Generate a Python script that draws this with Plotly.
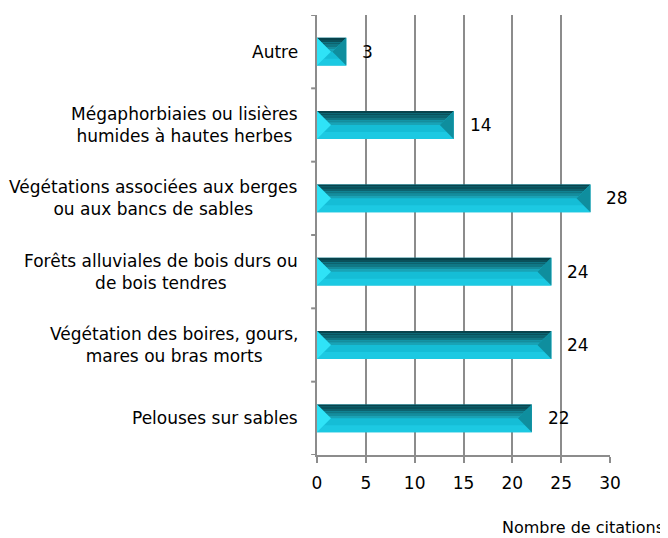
import plotly.graph_objects as go

categories = [
    "Autre",
    "Mégaphorbiaies ou lisières<br>humides à hautes herbes",
    "Végétations associées aux berges<br>ou aux bancs de sables",
    "Forêts alluviales de bois durs ou<br>de bois tendres",
    "Végétation des boires, gours,<br>mares ou bras morts",
    "Pelouses sur sables",
]
values = [3, 14, 28, 24, 24, 22]
x_ticks = [0, 5, 10, 15, 20, 25, 30]

FONT = "DejaVu Sans"
BAR_W = 0.38
GREY = "#8c8c8c"

W, H = 660, 530
ML, MR, MT, MB = 309, 58, 7, 83

fig = go.Figure()
fig.add_trace(go.Bar(
    x=values, y=list(range(len(categories))), orientation="h",
    width=BAR_W, marker=dict(color="#15bdd6", line=dict(width=0)),
    hoverinfo="skip",
))

# bevel shapes computed from data
plot_w_px = W - ML - MR
plot_h_px = H - MT - MB
px_per_x = plot_w_px / 30.0
px_per_cat = plot_h_px / len(categories)
h = BAR_W / 2
d_full = h * px_per_cat / px_per_x

shapes = []
top_cols = ["#08434c", "#0a505a", "#0d626e", "#117784", "#158d9d", "#19a3b6"]
for i, v in enumerate(values):
    d = min(d_full, v / 2.0)
    top = i - h
    bot = i + h
    n = len(top_cols)
    for k, c in enumerate(top_cols):
        t0, t1 = k / n, (k + 1) / n
        y0, y1 = top + h * t0, top + h * t1
        path = (f"M {d*t0} {y0} L {v-d*t0} {y0} L {v-d*t1} {y1} L {d*t1} {y1} Z")
        shapes.append(dict(type="path", path=path, xref="x", yref="y",
                           fillcolor=c, line=dict(width=0), layer="above"))
    path = f"M {d*0.5} {i + h*0.5} L {v-d*0.5} {i + h*0.5} L {v} {bot} L 0 {bot} Z"
    shapes.append(dict(type="path", path=path, xref="x", yref="y",
                       fillcolor="#1cc9e2", line=dict(width=0), layer="above"))
    path = f"M 0 {top} L {d} {i} L 0 {bot} Z"
    shapes.append(dict(type="path", path=path, xref="x", yref="y",
                       fillcolor="#2fe3f7", line=dict(width=0), layer="above"))
    path = f"M {v} {top} L {v-d} {i} L {v} {bot} Z"
    shapes.append(dict(type="path", path=path, xref="x", yref="y",
                       fillcolor="#0f8e9e", line=dict(width=0), layer="above"))

annotations = []
for i, (c, v) in enumerate(zip(categories, values)):
    annotations.append(dict(x=0, xref="paper", y=i, yref="y", text=c,
                            xanchor="right", yanchor="middle", align="center",
                            xshift=-17, showarrow=False,
                            font=dict(family=FONT, size=17, color="#000")))
    annotations.append(dict(x=v, xref="x", y=i, yref="y", text=str(v),
                            xanchor="left", yanchor="middle", xshift=14,
                            showarrow=False,
                            font=dict(family=FONT, size=17, color="#000")))
annotations.append(dict(x=1.0, xref="paper", y=0, yref="paper",
                        text="Nombre de citations", xanchor="right",
                        yanchor="middle", yshift=-72, xshift=56, showarrow=False,
                        font=dict(family=FONT, size=16, color="#000")))

fig.update_layout(
    width=W, height=H,
    margin=dict(l=ML, r=MR, t=MT, b=MB),
    paper_bgcolor="white", plot_bgcolor="white",
    showlegend=False,
    shapes=shapes, annotations=annotations,
    xaxis=dict(range=[0, 30], tickvals=x_ticks, showgrid=True,
               gridcolor=GREY, gridwidth=2, zeroline=False,
               showline=True, linecolor=GREY, linewidth=2,
               ticks="outside", ticklen=6, tickcolor=GREY, tickwidth=2,
               ticklabelstandoff=6,
               tickfont=dict(family=FONT, size=17, color="#000")),
    yaxis=dict(range=[len(categories) - 0.5, -0.5],
               tickvals=list(range(len(categories))),
               ticktext=[""] * len(categories),
               showgrid=False, zeroline=False, showline=True,
               linecolor=GREY, linewidth=2,
               ticks="", showticklabels=False),
)

for b in range(len(categories) + 1):
    fig.add_shape(type="line", xref="paper", yref="y", x0=-0.02, x1=0,
                  y0=b - 0.5, y1=b - 0.5, line=dict(color=GREY, width=2))

fig.write_html("out.html")
